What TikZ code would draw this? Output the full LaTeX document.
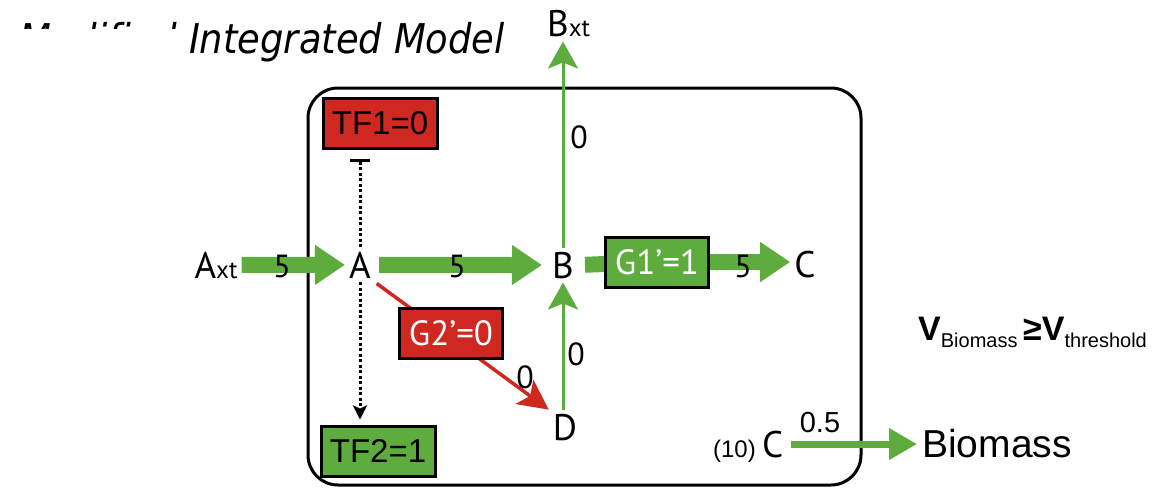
\documentclass[tikz,border=0pt]{standalone}
\usepackage{fontspec}
\setmainfont{Liberation Sans}
\newfontfamily\myriad{PT Sans}
\newfontfamily\titolo{DejaVu Sans}
\usetikzlibrary{arrows.meta}
\definecolor{verde}{RGB}{94,172,62}
\definecolor{rosso}{RGB}{207,40,32}
\newcommand{\pedice}[1]{{\fontsize{25}{25}\selectfont #1}}
\newcommand{\indice}[1]{\raisebox{-7pt}{\fontsize{20}{20}\selectfont #1}}

\begin{document}
\begin{tikzpicture}[
  x=1pt, y=-1pt,
  met/.style={font=\myriad\fontsize{37}{37}\selectfont, inner sep=4pt, anchor=base},
  num/.style={font=\myriad\fontsize{32}{32}\selectfont, inner sep=0pt, anchor=base},
  gene/.style={draw, line width=3pt, minimum width=103pt, minimum height=50pt,
               inner sep=0pt, text=white, font=\myriad\fontsize{35}{35}\selectfont},
  tf/.style={draw, line width=3pt, minimum width=114pt, minimum height=50pt,
             inner sep=0pt, font=\fontsize{33}{33}\selectfont},
  flussoforte/.style={verde, line width=16pt, -{Triangle[length=30pt,width=38pt]}},
  flusso/.style={verde, line width=3pt, -{Stealth[length=27pt,width=30pt,inset=6pt]}},
  regola/.style={line width=3pt, dash pattern=on 3pt off 2.5pt}
]
\useasboundingbox (0,0) rectangle (1161,487);

% Titolo
\node[anchor=base east, inner sep=0pt, font=\titolo\itshape\fontsize{41}{41}\selectfont]
  (titolo) at (505,53) {\scalebox{0.9}[1]{Modified Integrated Model}};
\fill[white] (0,29) rectangle (190,64);

% ====================== CELLULA ======================
\draw[line width=3pt, rounded corners=30pt] (308,88) rectangle (861,485);

% Metaboliti
\node[met] (Axt) at (216,278) {A\pedice{xt}};
\node[met] (A)   at (360,278) {A};
\node[met] (B)   at (563,278) {B};
\node[met] (C)   at (805,277) {C};
\node[met] (D)   at (565,440) {D};
\node[met, anchor=base west, inner sep=0pt] (Bxt) at (547,37) {B\pedice{xt}};

% Regolatori
\node[tf, fill=rosso]  (TF1) at (380,123) {TF1=0};
\node[tf, fill=verde]  (TF2) at (378,451) {TF2=1};

% ====================== FLUSSI ======================
\draw[flussoforte] (Axt) -- (A);
\draw[flussoforte, shorten <=4pt, shorten >=6pt] (A) -- (B);
\draw[verde, line width=16pt, shorten <=7pt] (B.east) -- (657,262);
\node[gene, fill=verde] (G1) at (657,262) {G1’=1};
\draw[flussoforte] (G1.east) -- (G1.east -| C.west);
\draw[flusso, shorten >=4pt] (B.north) -- (B.north |- Bxt.south);
\draw[flusso] (B.south |- D.north) -- (B.south);
\draw[rosso, line width=3.5pt, -{Stealth[length=30pt,width=30pt,inset=7pt]},
      shorten <=2pt] (A.south east) -- (D.north west);
\node[gene, fill=rosso] (G2) at (451,333) {G2’=0};

% Regolazione trascrizionale
\draw[regola, -{Bar[width=20pt,line width=3pt]}, shorten >=9pt]
  (A.north) -- (A.north |- TF1.south);
\draw[regola, -{Stealth[length=14pt,width=14pt,inset=3pt]}, shorten >=5pt]
  (A.south) -- (A.south |- TF2.north);

% Valori di flusso
\node[num] (f1) at (282,277) {5};
\node[num] (f2) at (457,277) {5};
\node[num] (f3) at (743,277) {5};
\node[num] (f4) at (579,148) {0};
\node[num] (f5) at (576,365) {0};
\node[num] (f6) at (525,388) {0};

% ====================== BIOMASSA ======================
\node[anchor=base west, inner sep=0pt, font=\fontsize{34}{34}\selectfont] (vinc) at (918,340)
  {\textbf{V}\indice{Biomass}\,\textbf{≥}\textbf{V}\indice{threshold}};
\node[anchor=base east, inner sep=0pt, font=\fontsize{24}{24}\selectfont] (coef) at (756,457) {(10)};
\node[met, anchor=base west, inner sep=0pt] (C2) at (762,457) {C};
\node[anchor=base west, inner sep=0pt, font=\fontsize{39}{39}\selectfont] (Bio) at (922,457) {Biomass};
\draw[verde, line width=7pt, -{Triangle[length=28pt,width=30pt]}, shorten <=7pt, shorten >=5pt]
  (C2.east) -- (C2.east -| Bio.west);
\node[anchor=base, inner sep=0pt, font=\fontsize{29}{29}\selectfont] (f7) at (820,432) {0.5};

\end{tikzpicture}
\end{document}
